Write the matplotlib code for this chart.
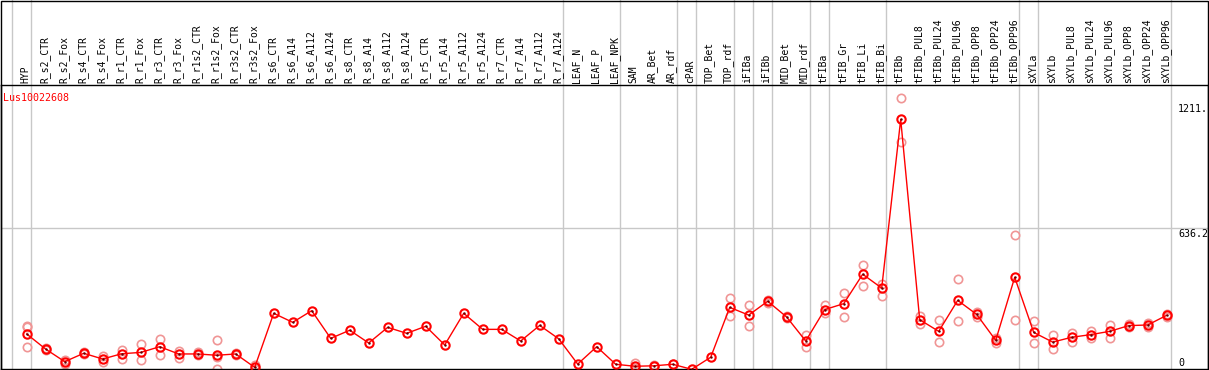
import numpy as np
import matplotlib
matplotlib.use('Agg')
import matplotlib.pyplot as plt
from matplotlib.patches import Rectangle

plt.rcParams['font.family'] = ['DejaVu Sans Mono']

GENE = 'Lus10022608'

samples = ['HYP', 'R_s2_CTR', 'R_s2_Fox', 'R_s4_CTR', 'R_s4_Fox', 'R_r1_CTR', 'R_r1_Fox',
           'R_r3_CTR', 'R_r3_Fox', 'R_r1s2_CTR', 'R_r1s2_Fox', 'R_r3s2_CTR', 'R_r3s2_Fox',
           'R_s6_CTR', 'R_s6_A14', 'R_s6_A112', 'R_s6_A124', 'R_s8_CTR', 'R_s8_A14',
           'R_s8_A112', 'R_s8_A124', 'R_r5_CTR', 'R_r5_A14', 'R_r5_A112', 'R_r5_A124',
           'R_r7_CTR', 'R_r7_A14', 'R_r7_A112', 'R_r7_A124', 'LEAF_N', 'LEAF_P', 'LEAF_NPK',
           'SAM', 'AR_Bet', 'AR_rdf', 'cPAR', 'TOP_Bet', 'TOP_rdf', 'iFIBa', 'iFIBb',
           'MID_Bet', 'MID_rdf', 'tFIBa', 'tFIB_Gr', 'tFIB_Li', 'tFIB_Bi', 'tFIBb',
           'tFIBb_PUL8', 'tFIBb_PUL24', 'tFIBb_PUL96', 'tFIBb_OPP8', 'tFIBb_OPP24',
           'tFIBb_OPP96', 'sXYLa', 'sXYLb', 'sXYLb_PUL8', 'sXYLb_PUL24', 'sXYLb_PUL96',
           'sXYLb_OPP8', 'sXYLb_OPP24', 'sXYLb_OPP96']

mean_expr = [155, 86, 29, 67, 41, 65, 71, 97, 64, 64, 58, 64, 3,
             249, 208, 261, 135, 172, 114, 185, 158, 190, 105, 249, 176, 176, 123, 194, 133,
             18, 97, 17, 8, 10, 17, -6, 49, 276, 241, 304, 232, 123, 266, 293, 427, 364,
             1132, 220, 167, 308, 244, 126, 413, 162, 118, 140, 152, 167, 193, 196, 240]

replicates = [[94, 185, 191], [82, 90], [36, 18], [64, 72], [56, 29], [82, 40], [109, 36],
              [133, 58], [79, 44], [72, 57], [127, 52, -5], [70, 58], [14, -5],
              [], [], [], [], [], [], [], [], [], [], [], [], [], [], [], [],
              [], [], [], [21, -1], [14, 8], [18], [], [],
              [317, 235], [288, 190], [310, 298], [236, 228], [150, 97], [288, 249],
              [340, 231], [468, 372], [382, 326], [1228, 1030], [237, 202], [217, 117],
              [404, 212], [256, 232], [135, 113], [604, 217], [212, 112], [150, 85],
              [159, 120], [168, 135], [196, 138], [200, 186], [204, 188], [248, 233]]

# group separators drawn after these sample indices
group_ends = [-1, 0, 28, 31, 34, 35, 37, 38, 39, 41, 42, 45, 52, 53, 60]

W, H = 1209, 370
fig = plt.figure(figsize=(W / 100, H / 100), dpi=100)
top_px, bot_px = 85, 369
ax = fig.add_axes([0.5 / W, (H - bot_px) / H, 1207 / W, (bot_px - top_px) / H])

x = np.arange(len(samples))
ax.set_xlim(-1.379, 62.147)
ax.set_ylim(-4.5, 1288.7)

# replicate points
for i, reps in enumerate(replicates):
    if reps:
        ax.plot([i] * len(reps), reps, 'o', ms=6, mfc='none', mec='#f09595', mew=1.2,
                zorder=2, clip_on=True)

ax.plot(x, mean_expr, '-', color='red', lw=1, zorder=3)
ax.plot(x, mean_expr, 'o', ms=6, mfc='none', mec='red', mew=1.5, zorder=4)
ax.plot(x, mean_expr, '.', ms=1.5, color='#600000', zorder=5)

# horizontal grid line
ax.axhline(636.2, color='#c8c8c8', lw=1, zorder=1)

# vertical group separators through label area
ext = 1 + top_px / (bot_px - top_px)
for g in group_ends:
    ax.plot([g + 0.2, g + 0.2], [0, ext], color='#c8c8c8', lw=1,
            transform=ax.get_xaxis_transform(), clip_on=False, zorder=1)

# sample labels
for i, s in enumerate(samples):
    ax.text(i - 0.06, 1.006, s, rotation=90, ha='center', va='bottom', fontsize=7,
            transform=ax.get_xaxis_transform(), clip_on=False)

ax.text(0.002, 0.972, GENE, color='red', fontsize=7.2, ha='left', va='top',
        transform=ax.transAxes)

# value labels on the right
xl = 60.6
ax.text(xl, 1202, '1211.', fontsize=7.2, ha='left', va='top')
ax.text(xl, 634, '636.2', fontsize=7.2, ha='left', va='top')
ax.text(xl, -2, '0', fontsize=7.2, ha='left', va='bottom')

ax.set_xticks([])
ax.set_yticks([])
for sp in ax.spines.values():
    sp.set_color('black')
    sp.set_linewidth(1)

fig.patches.append(Rectangle((0.5 / W, 0.5 / H), 1207 / W, (H - 1) / H, fill=False,
                             edgecolor='black', lw=1, transform=fig.transFigure))

fig.savefig('out.png', dpi=100, facecolor='white')
